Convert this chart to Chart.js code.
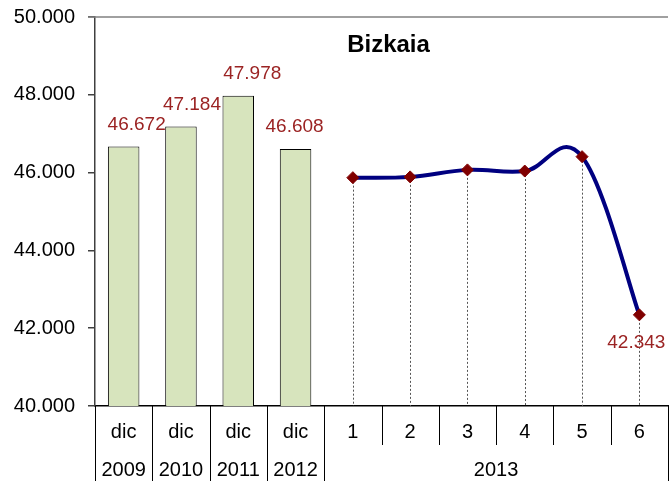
<!DOCTYPE html>
<html><head><meta charset="utf-8">
<script src="https://cdn.jsdelivr.net/npm/chart.js@4"></script>
<style>html,body{margin:0;padding:0;overflow:hidden;background:#fff;width:671px;height:481px}</style>
</head><body>
<canvas id="c" width="675" height="481"></canvas>
<script>
const categories = ['dic','dic','dic','dic','1','2','3','4','5','6'];
const years = ['2009','2010','2011','2012','2013','2013','2013','2013','2013','2013'];
const annualValues = [46672, 47184, 47978, 46608, null, null, null, null, null, null];
const monthlyValues = [null, null, null, null, 45870, 45890, 46070, 46040, 46410, 42343];
const yMin = 40000, yMax = 50000, yStep = 2000;
const chartTitle = 'Bizkaia';

const FONT = "Arial, 'Liberation Sans', sans-serif";
const fmt = n => Math.floor(n / 1000) + '.' + String(Math.round(n % 1000)).padStart(3, '0');

const barLabelShift = [13, 11, 14, -1];

// Excel-like smoothing (uniform Catmull-Rom style control points)
const smooth = {
  id: 'smooth',
  beforeDatasetsDraw(chart) {
    const meta = chart.getDatasetMeta(0);
    if (meta.dataset && meta.dataset.updateControlPoints) meta.dataset.updateControlPoints(chart.chartArea, 'x');
    const pts = meta.data.filter((p, i) => monthlyValues[i] != null);
    const k = 0.19;
    for (let i = 0; i < pts.length; i++) {
      const prev = pts[i - 1] || pts[i], next = pts[i + 1] || pts[i], p = pts[i];
      const tx = (next.x - prev.x) * k, ty = (next.y - prev.y) * k;
      p.cp1x = p.x - tx; p.cp1y = p.y - ty;
      p.cp2x = p.x + tx; p.cp2y = p.y + ty;
    }
  }
};

const decor = {
  id: 'decor',
  beforeDatasetsDraw(chart) {
    const ctx = chart.ctx, ca = chart.chartArea;
    ctx.save();
    ctx.strokeStyle = '#808080'; ctx.lineWidth = 1.5;
    ctx.beginPath(); ctx.moveTo(ca.left - 7, ca.top); ctx.lineTo(ca.right, ca.top); ctx.stroke();
    const meta = chart.getDatasetMeta(0);
    ctx.strokeStyle = '#555'; ctx.lineWidth = 1; ctx.setLineDash([2, 2]);
    meta.data.forEach((p, i) => {
      if (monthlyValues[i] == null) return;
      ctx.beginPath(); ctx.moveTo(Math.round(p.x) + 0.5, p.y); ctx.lineTo(Math.round(p.x) + 0.5, ca.bottom); ctx.stroke();
    });
    ctx.restore();
  },
  afterDraw(chart) {
    const ctx = chart.ctx, x = chart.scales.x, ca = chart.chartArea;
    const H = chart.height;
    ctx.save();
    ctx.strokeStyle = '#000'; ctx.lineWidth = 1;
    const n = categories.length;
    const bx = [];
    for (let i = 0; i <= n; i++) {
      let xx;
      if (i === 0) xx = ca.left; else if (i === n) xx = ca.right;
      else xx = (x.getPixelForValue(i - 1) + x.getPixelForValue(i)) / 2;
      bx.push(xx);
      const yearBoundary = i === 0 || i === n || years[i] !== years[i - 1];
      const bottom = yearBoundary ? H : ca.bottom + 39;
      ctx.beginPath(); ctx.moveTo(Math.round(xx) + 0.5, ca.bottom); ctx.lineTo(Math.round(xx) + 0.5, bottom); ctx.stroke();
    }
    ctx.fillStyle = '#000'; ctx.font = '20px ' + FONT; ctx.textAlign = 'center'; ctx.textBaseline = 'middle';
    let s = 0;
    for (let i = 1; i <= n; i++) {
      if (i === n || years[i] !== years[s]) {
        ctx.fillText(years[s], (bx[s] + bx[i]) / 2, 470);
        s = i;
      }
    }
    ctx.font = 'bold 24px ' + FONT;
    ctx.fillText(chartTitle, (ca.left + ca.right) / 2 + 7, 45);
    ctx.font = '19px ' + FONT; ctx.fillStyle = '#9B2323';
    const bm = chart.getDatasetMeta(1);
    bm.data.forEach((b, i) => {
      if (annualValues[i] == null) return;
      ctx.fillText(fmt(annualValues[i]), b.x + (barLabelShift[i] || 0), b.y - 22);
    });
    const lm = chart.getDatasetMeta(0);
    const last = monthlyValues.length - 1;
    const p = lm.data[last];
    ctx.fillText(fmt(monthlyValues[last]), p.x - 3, p.y + 28);
    ctx.restore();
  }
};

new Chart(document.getElementById('c'), {
  data: {
    labels: categories,
    datasets: [
      {
        type: 'line', data: monthlyValues, borderColor: '#000080', borderWidth: 4,
        tension: 0.4, spanGaps: false, fill: false,
        pointStyle: 'rectRot', pointRadius: 6, pointBackgroundColor: '#800000', pointBorderColor: '#800000', pointBorderWidth: 1
      },
      {
        type: 'bar', data: annualValues, backgroundColor: '#D7E4BD', borderColor: '#000', borderWidth: 1,
        barPercentage: 0.55, categoryPercentage: 1
      }
    ]
  },
  options: {
    responsive: false, animation: false, devicePixelRatio: 1,
    layout: { padding: { top: 17, left: 0, right: 0, bottom: 0 } },
    plugins: { legend: { display: false }, tooltip: { enabled: false }, title: { display: false } },
    scales: {
      x: {
        offset: true,
        grid: { display: false, drawTicks: false },
        border: { display: true, color: '#000', width: 1.5 },
        ticks: { font: { size: 20, family: FONT }, color: '#000', padding: 14, maxRotation: 0, autoSkip: false },
        afterFit: s => { s.height = 75; s.paddingLeft = 0; s.paddingRight = 0; }
      },
      y: {
        min: yMin, max: yMax,
        grid: { drawOnChartArea: false, tickLength: 7, color: '#404040', lineWidth: 1.5 },
        border: { display: true, color: '#404040', width: 1.5 },
        ticks: { stepSize: yStep, callback: v => fmt(v), font: { size: 20, family: FONT }, color: '#000', padding: 13 },
        afterFit: s => { s.width = 95; s.paddingTop = 0; s.paddingBottom = 0; }
      }
    }
  },
  plugins: [smooth, decor]
});
</script>
</body></html>
